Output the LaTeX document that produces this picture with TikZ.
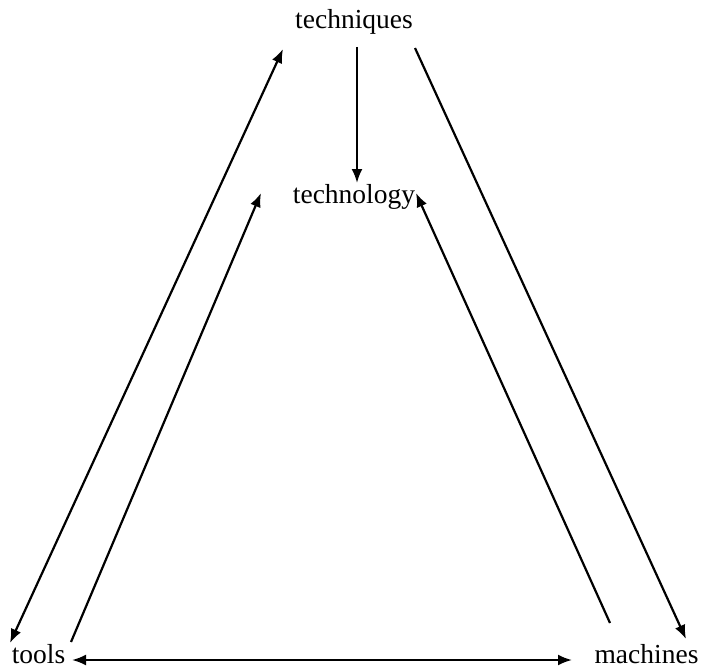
\documentclass[tikz,border=0pt]{standalone}
\usepackage{fontspec}
\setmainfont{Liberation Serif}
\usetikzlibrary{arrows.meta}
\tikzset{%
  >={Latex[length=14pt,width=11pt]}, % filled arrow tips
  word/.style={inner sep=0pt,outer sep=0pt,anchor=base,
    font=\fontsize{27.5}{30}\selectfont},%
  link/.style={line width=2.2pt}%
}
\begin{document}
\begin{tikzpicture}[x=1pt,y=-1pt]

%% frame of the picture

\useasboundingbox (0,0) rectangle (701,669);

%% the four words

\node[word] (techniques) at (354,29) {techniques};
\node[word] (technology) at (354,203) {technology};
\node[word] (tools) at (38.5,663) {tools};
\node[word] (machines) at (646.5,663) {machines};

%% end points of the arrows

\coordinate (Tdown) at (357,47); % under techniques
\coordinate (Gup) at (357,183); % over technology
\coordinate (TL) at (283,49); % techniques, left
\coordinate (TR) at (415,48); % techniques, right
\coordinate (GL) at (261,193); % technology, left
\coordinate (GR) at (416,193); % technology, right
\coordinate (LL) at (10,643); % tools, outer
\coordinate (LI) at (71,642); % tools, inner
\coordinate (LB) at (72,660); % tools, bottom
\coordinate (MI) at (610,623); % machines, inner
\coordinate (MR) at (686,639); % machines, outer
\coordinate (MB) at (572,660); % machines, bottom

%% draw arrows

\draw[link,->] (Tdown) -- (Gup);
\draw[link,<->] (TL) -- (LL);
\draw[link,->] (LI) -- (GL);
\draw[link,->] (MI) -- (GR);
\draw[link,->] (TR) -- (MR);
\draw[link,<->] (LB) -- (MB);
\end{tikzpicture}
\end{document}
